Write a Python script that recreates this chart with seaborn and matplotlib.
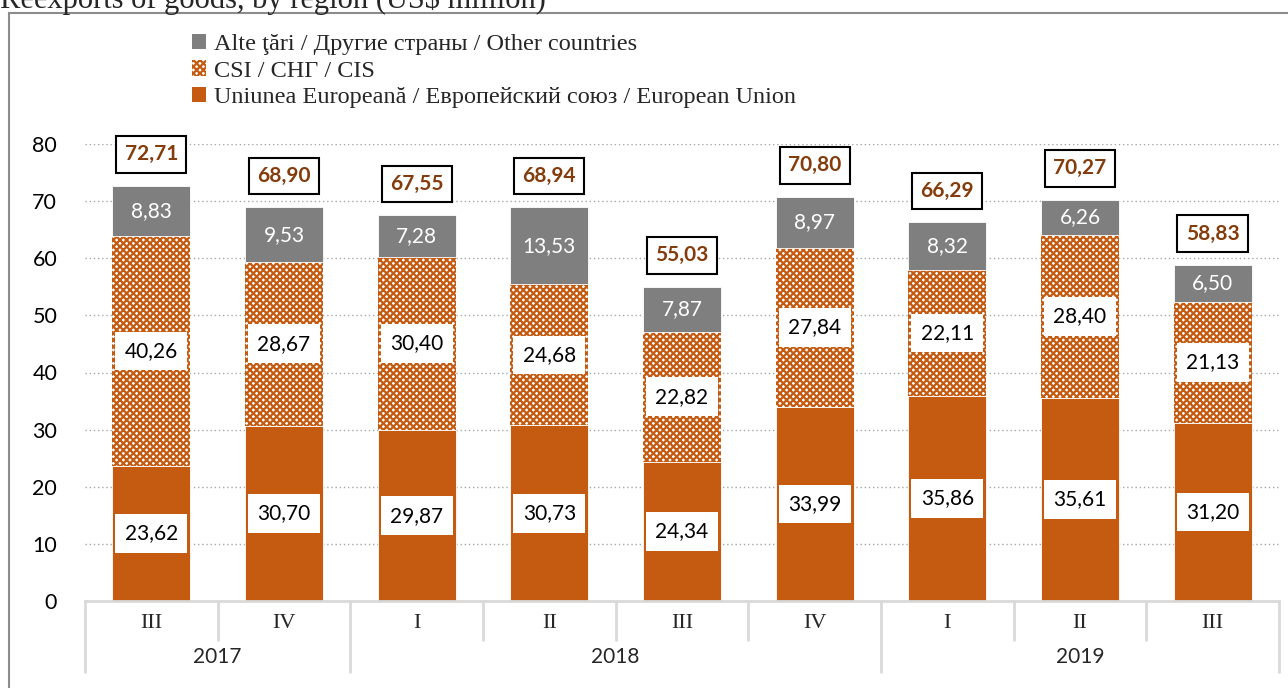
import matplotlib
matplotlib.use("Agg")
import matplotlib.pyplot as plt
import seaborn as sns
import pandas as pd
import numpy as np
from matplotlib.patches import Patch, Rectangle

# ---- data ----
years = ["2017", "2017", "2018", "2018", "2018", "2018", "2019", "2019", "2019"]
quarters = ["III", "IV", "I", "II", "III", "IV", "I", "II", "III"]
eu = [23.62, 30.70, 29.87, 30.73, 24.34, 33.99, 35.86, 35.61, 31.20]
cis = [40.26, 28.67, 30.40, 24.68, 22.82, 27.84, 22.11, 28.40, 21.13]
other = [8.83, 9.53, 7.28, 13.53, 7.87, 8.97, 8.32, 6.26, 6.50]
totals = [72.71, 68.90, 67.55, 68.94, 55.03, 70.80, 66.29, 70.27, 58.83]
series_names = ["Alte ţări / Другие страны / Other countries",
                "CSI / СНГ / CIS",
                "Uniunea Europeană / Европейский союз / European Union"]
title = "Reexports of goods, by region (US$ million)"

sns.set_theme(style="white")
plt.rcParams['font.family'] = ['Lato', 'DejaVu Sans']
plt.rcParams['hatch.linewidth'] = 1.6

C_EU = "#C55A11"
C_OTH = "#7F7F7F"
C_TOT = "#843C0C"

cats = [f"{y}-{q}-{i}" for i, (y, q) in enumerate(zip(years, quarters))]
df = pd.DataFrame({"cat": cats, "eu": eu, "cis": cis, "other": other, "total": totals})
df["b_cis"] = df["eu"]
df["b_oth"] = df["eu"] + df["cis"]

fig = plt.figure(figsize=(12.88, 6.88), dpi=100)
W, H = 1288, 688
ax = fig.add_axes([85 / W, (H - 601) / H, (1279 - 85) / W, (601 - 144) / H])

bw = 0.59
sns.barplot(data=df, x="cat", y="eu", color=C_EU, ax=ax, width=bw,
            saturation=1, edgecolor="white", linewidth=0.6, zorder=3)
sns.barplot(data=df, x="cat", y="cis", bottom=df["b_cis"], ax=ax, width=bw,
            color="white", saturation=1, edgecolor=C_EU, linewidth=0,
            hatch="xxxxx", zorder=3)
sns.barplot(data=df, x="cat", y="other", bottom=df["b_oth"], color=C_OTH, ax=ax,
            width=bw, saturation=1, edgecolor="white", linewidth=0.6, zorder=3)

ax.set_xlim(-0.5, len(cats) - 0.5)
ax.set_ylim(0, 80)
ax.set_yticks(range(0, 81, 10))
ax.set_xticks([])
ax.set_xlabel("")
ax.set_ylabel("")
for s in ["top", "right", "left"]:
    ax.spines[s].set_visible(False)
ax.spines["bottom"].set_color("#D9D9D9")
ax.spines["bottom"].set_linewidth(2)
ax.spines["bottom"].set_zorder(4)
ax.tick_params(axis="y", length=0, pad=20, labelsize=15.5, labelcolor="black")
for v in range(10, 81, 10):
    ax.axhline(v, color="#A6A6A6", linestyle=(0, (1, 2)), linewidth=1, zorder=1)

# segment labels
for i in range(len(cats)):
    ax.text(i, eu[i] / 2, f"{eu[i]:.2f}".replace(".", ","), ha="center", va="center",
            fontsize=15, color="black", zorder=6,
            bbox=dict(boxstyle="square,pad=0.45", fc="white", ec="none"))
    ax.text(i, eu[i] + cis[i] / 2, f"{cis[i]:.2f}".replace(".", ","), ha="center",
            va="center", fontsize=15, color="black", zorder=6,
            bbox=dict(boxstyle="square,pad=0.45", fc="white", ec="none"))
    ax.text(i, eu[i] + cis[i] + other[i] / 2, f"{other[i]:.2f}".replace(".", ","),
            ha="center", va="center", fontsize=15, color="white", zorder=6)
    ax.annotate(f"{totals[i]:.2f}".replace(".", ","), xy=(i, totals[i]),
                xytext=(0, 22.5), textcoords="offset points", ha="center",
                va="center", fontsize=15, fontweight="bold", color=C_TOT,
                annotation_clip=False, zorder=6,
                bbox=dict(boxstyle="square,pad=0.4", fc="white", ec="black", lw=1.5))

# multi-level category axis
trans = ax.get_xaxis_transform()
ax_h = 601 - 144
def fy(py):
    return (601 - py) / ax_h
for i, q in enumerate(quarters):
    ax.text(i, fy(623), q, transform=trans, ha="center", va="center", fontsize=16,
            family=['Liberation Serif', 'DejaVu Serif'])
bounds = [0]
for i in range(1, len(years)):
    if years[i] != years[i - 1]:
        bounds.append(i)
bounds.append(len(years))
for k in range(len(cats) + 1):
    x = k - 0.5
    low = fy(672) if k in bounds else fy(640)
    ax.plot([x, x], [0, low], transform=trans, color="#D9D9D9", lw=2, clip_on=False)
for a, b in zip(bounds[:-1], bounds[1:]):
    ax.text((a + b - 1) / 2, fy(657), years[a], transform=trans, ha="center",
            va="center", fontsize=15)

# legend
handles = [Patch(facecolor=C_OTH, edgecolor="none"),
           Patch(facecolor="white", edgecolor=C_EU, hatch="xxxxx", lw=0),
           Patch(facecolor=C_EU, edgecolor="none")]
fig.legend(handles, series_names, loc="upper left",
           bbox_to_anchor=(182 / W, 1 - 24 / H), frameon=False,
           handlelength=0.6, handleheight=0.6, handletextpad=0.3,
           labelspacing=0.22, borderaxespad=0,
           prop={"family": ['Liberation Serif', 'DejaVu Serif'], "size": 17.5})

# outer frame and clipped title (cut at the top edge, as in the source image)
fig.patches.append(Rectangle((9 / W, -0.05), 1.1, 1 - 13 / H + 0.05,
                             transform=fig.transFigure, fill=False,
                             ec="#8C8C8C", lw=1.5))
fig.text(0.0, 1.0, title, ha="left", va="center", fontsize=22,
         family=['Liberation Serif', 'DejaVu Serif'])

fig.savefig("out.png", dpi=100)
